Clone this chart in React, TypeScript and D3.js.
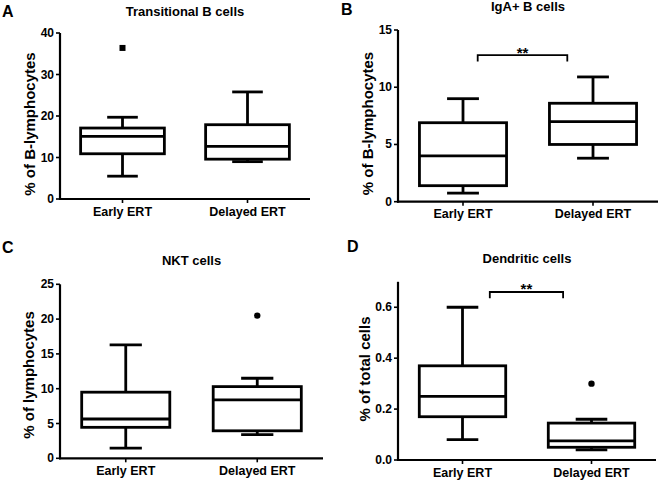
import React from "react";
import * as d3 from "d3";

const categories = ["Early ERT", "Delayed ERT"];

// box stats per group: [min, q1, median, q3, max]
const transitionalStats = [
  [5.5, 10.9, 15.1, 17.1, 19.7],
  [9.0, 9.6, 12.7, 17.9, 25.8],
];
const transitionalOutliers = [[36.4], []];

const igaStats = [
  [0.75, 1.4, 4.0, 6.9, 9.0],
  [3.8, 5.0, 7.0, 8.6, 10.9],
];
const igaOutliers = [[], []];

const nktStats = [
  [1.45, 4.45, 5.65, 9.5, 16.3],
  [3.4, 3.95, 8.4, 10.3, 11.5],
];
const nktOutliers = [[], [20.5]];

const dendriticStats = [
  [0.08, 0.17, 0.25, 0.37, 0.6],
  [0.04, 0.05, 0.075, 0.145, 0.16],
];
const dendriticOutliers = [[], [0.3]];

const transitionalTicks = [0, 10, 20, 30, 40];
const igaTicks = [0, 5, 10, 15];
const nktTicks = [0, 5, 10, 15, 20, 25];
const dendriticTicks = [0, 0.2, 0.4, 0.6];

const FONT = "'Liberation Sans', Arial, Helvetica, sans-serif";

type Panel = {
  letter: string;
  title: string;
  yLabel: string;
  stats: number[][];
  outliers: number[][];
  ticks: number[];
  tickFmt: (v: number) => string;
  domain: [number, number];
  xRange: [number, number];
  yRange: [number, number];
  letterPos: [number, number];
  titleY: number;
  yLabelX: number;
  yLabelY: number;
  marker: "square" | "circle";
  sig?: { value: number; leg: number; offsets: [number, number] };
};

const panels: Panel[] = [
  {
    letter: "A",
    title: "Transitional B cells",
    yLabel: "% of B-lymphocytes",
    stats: transitionalStats,
    outliers: transitionalOutliers,
    ticks: transitionalTicks,
    tickFmt: d3.format("d"),
    domain: [0, 40],
    xRange: [60, 310],
    yRange: [199, 33],
    letterPos: [2, 17],
    titleY: 16,
    yLabelX: 29,
    yLabelY: 124,
    marker: "square",
  },
  {
    letter: "B",
    title: "IgA+ B cells",
    yLabel: "% of B-lymphocytes",
    stats: igaStats,
    outliers: igaOutliers,
    ticks: igaTicks,
    tickFmt: d3.format("d"),
    domain: [0, 15],
    xRange: [398, 658],
    yRange: [201.7, 30],
    letterPos: [341, 15],
    titleY: 10.5,
    yLabelX: 367.5,
    yLabelY: 123.5,
    marker: "circle",
    sig: { value: 12.8, leg: 12.25, offsets: [14.7, -25.7] },
  },
  {
    letter: "C",
    title: "NKT cells",
    yLabel: "% of lymphocytes",
    stats: nktStats,
    outliers: nktOutliers,
    ticks: nktTicks,
    tickFmt: d3.format("d"),
    domain: [0, 25],
    xRange: [60, 323],
    yRange: [458.3, 284.3],
    letterPos: [2, 253],
    titleY: 265,
    yLabelX: 28,
    yLabelY: 375,
    marker: "circle",
  },
  {
    letter: "D",
    title: "Dendritic cells",
    yLabel: "% of total cells",
    stats: dendriticStats,
    outliers: dendriticOutliers,
    ticks: dendriticTicks,
    tickFmt: d3.format(".1f"),
    domain: [0, 0.7],
    xRange: [398, 656],
    yRange: [460, 281.8],
    letterPos: [347, 252],
    titleY: 263,
    yLabelX: 364,
    yLabelY: 369,
    marker: "circle",
    sig: { value: 0.66, leg: 0.635, offsets: [27.3, -28.4] },
  },
];

function PanelView({ p }: { p: Panel }) {
  const x = d3.scalePoint<string>().domain(categories).range(p.xRange).padding(0.5);
  const y = d3.scaleLinear().domain(p.domain).range(p.yRange);
  const step = x.step();
  const boxW = step * 0.67;
  const capW = step * 0.245;
  const sw = 2.8;
  return (
    <g>
      <text x={p.letterPos[0]} y={p.letterPos[1]} fontSize={16} fontWeight="bold" fontFamily={FONT}>
        {p.letter}
      </text>
      <text
        x={(p.xRange[0] + p.xRange[1]) / 2}
        y={p.titleY}
        fontSize={13}
        fontWeight="bold"
        fontFamily={FONT}
        textAnchor="middle"
      >
        {p.title}
      </text>
      <text
        transform={`translate(${p.yLabelX},${p.yLabelY}) rotate(-90)`}
        fontSize={15}
        fontWeight="bold"
        fontFamily={FONT}
        textAnchor="middle"
        dominantBaseline="central"
      >
        {p.yLabel}
      </text>
      {/* y axis */}
      <line x1={p.xRange[0]} x2={p.xRange[0]} y1={p.yRange[0] + 1} y2={p.yRange[1]} stroke="#000" strokeWidth={2.2} />
      {p.ticks.map((t) => (
        <g key={t}>
          <line x1={p.xRange[0] - 4} x2={p.xRange[0]} y1={y(t)} y2={y(t)} stroke="#000" strokeWidth={1.6} />
          <text
            x={p.xRange[0] - 6}
            y={y(t)}
            fontSize={12}
            fontWeight="bold"
            fontFamily={FONT}
            textAnchor="end"
            dominantBaseline="central"
          >
            {p.tickFmt(t)}
          </text>
        </g>
      ))}
      {/* x axis */}
      <line x1={p.xRange[0] - 1} x2={p.xRange[1]} y1={p.yRange[0]} y2={p.yRange[0]} stroke="#000" strokeWidth={2.2} />
      {categories.map((c) => (
        <g key={c}>
          <line x1={x(c)} x2={x(c)} y1={p.yRange[0]} y2={p.yRange[0] + 4} stroke="#000" strokeWidth={1.6} />
          <text
            x={x(c)}
            y={p.yRange[0] + 16.5}
            fontSize={12.5}
            fontWeight="bold"
            fontFamily={FONT}
            textAnchor="middle"
          >
            {c}
          </text>
        </g>
      ))}
      {/* boxes */}
      {categories.map((c, i) => {
        const [mn, q1, md, q3, mx] = p.stats[i];
        const cx = x(c) as number;
        return (
          <g key={c} stroke="#000" strokeWidth={sw} fill="none">
            <line x1={cx} x2={cx} y1={y(q3)} y2={y(mx)} />
            <line x1={cx} x2={cx} y1={y(q1)} y2={y(mn)} />
            <line x1={cx - capW / 2} x2={cx + capW / 2} y1={y(mx)} y2={y(mx)} />
            <line x1={cx - capW / 2} x2={cx + capW / 2} y1={y(mn)} y2={y(mn)} />
            <rect x={cx - boxW / 2} y={y(q3)} width={boxW} height={y(q1) - y(q3)} fill="#fff" />
            <line x1={cx - boxW / 2} x2={cx + boxW / 2} y1={y(md)} y2={y(md)} />
            {p.outliers[i].map((o, k) =>
              p.marker === "square" ? (
                <rect key={k} x={cx - 3} y={y(o) - 3} width={6} height={6} fill="#000" stroke="none" />
              ) : (
                <circle key={k} cx={cx} cy={y(o)} r={3.2} fill="#000" stroke="none" />
              )
            )}
          </g>
        );
      })}
      {p.sig && (
        <g>
          <path
            d={`M${(x(categories[0]) as number) + p.sig.offsets[0]},${y(p.sig.leg)}V${y(p.sig.value)}H${
              (x(categories[1]) as number) + p.sig.offsets[1]
            }V${y(p.sig.leg)}`}
            fill="none"
            stroke="#000"
            strokeWidth={1.8}
          />
          <text
            x={((x(categories[0]) as number) + p.sig.offsets[0] + (x(categories[1]) as number) + p.sig.offsets[1]) / 2}
            y={y(p.sig.value) + 2.5}
            fontSize={15}
            fontWeight="bold"
            fontFamily={FONT}
            textAnchor="middle"
          >
            **
          </text>
        </g>
      )}
    </g>
  );
}

export default function App() {
  return (
    <svg
      width={660}
      height={480}
      viewBox="0 0 660 480"
      style={{ position: "absolute", left: 0, top: 0, background: "#fff" }}
    >
      <rect width={660} height={480} fill="#fff" />
      {panels.map((p) => (
        <PanelView key={p.letter} p={p} />
      ))}
    </svg>
  );
}
